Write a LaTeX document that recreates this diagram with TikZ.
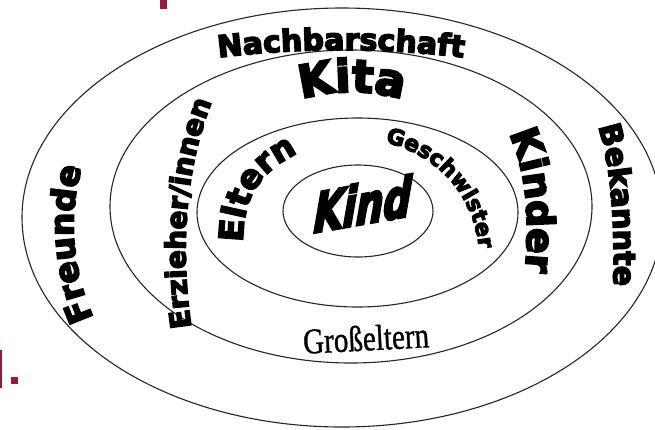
\documentclass[tikz,border=0pt]{standalone}
\usepackage{fontspec}
\usepackage{graphicx}
\usetikzlibrary{decorations.text}
\newfontfamily\wa{DejaVu Sans Bold}[FakeBold=5]
\newfontfamily\kindf{DejaVu Sans Bold}[FakeSlant=0.5,FakeBold=5]
\newfontfamily\gross{Liberation Serif}[FakeBold=1]
\definecolor{markred}{HTML}{981838}
\begin{document}
\begin{tikzpicture}[x=1pt,y=1pt,
  ring/.style={draw=black!85,line width=1.1pt},
  arctext/.style={decorate,decoration={text along path,text align=center,text={#1}}}]
\useasboundingbox (0,0) rectangle (655,-429);
\fill[white] (0,0) rectangle (655,-429);
% dark red marks
\fill[markred] (160,0) rectangle (167,-9);
\fill[markred] (0,-350) rectangle (1.5,-388);
\fill[markred] (11,-377) rectangle (18,-384);
% rings
\draw[ring] (342,-217.5) ellipse [x radius=320,y radius=209.5];
\draw[ring] (351,-206.5) ellipse [x radius=241,y radius=156.5];
\draw[ring] (357.5,-212.5) ellipse [x radius=160.5,y radius=94.5];
\draw[ring] (358,-211) ellipse [x radius=75,y radius=46];
% curved labels
\path[arctext={|\wa\fontsize{30}{30}\selectfont|Nachbarschaft}]
  (167.4,-65.2) arc[start angle=100,end angle=80,radius=1000];
\path[arctext={|\wa\fontsize{45}{45}\selectfont|Kita}]
  (236.3,-134.1) arc[start angle=130,end angle=50,radius=180];
\path[arctext={|\wa\fontsize{28}{28}\selectfont|Erzieher/innen}]
  (193,-338) .. controls (180,-260) and (182,-170) .. (216,-92);
\path[arctext={|\wa\fontsize{33}{33}\selectfont|Freunde}]
  (97,-325) .. controls (72,-275) and (66,-215) .. (84,-160);
\path[arctext={|\wa\fontsize{33}{33}\selectfont|Eltern}]
  (243,-250) .. controls (241,-200) and (258,-170) .. (305,-150);
\path[arctext={|\wa\fontsize{22}{22}\selectfont|Geschwister}]
  (372,-140) .. controls (430,-148) and (478,-190) .. (480,-262);
\path[arctext={|\wa\fontsize{38}{38}\selectfont|Kinder}]
  (503,-122) .. controls (524,-160) and (532,-205) .. (524,-285);
\path[arctext={|\wa\fontsize{30}{30}\selectfont|Bekannte}]
  (594,-115) .. controls (610,-155) and (616,-215) .. (613,-298);
% straight labels
\node[rotate=10,inner sep=0] (kind) at (356,-205)
  {\scalebox{1.05}[1.45]{\kindf\fontsize{37}{37}\selectfont Kind}};
\node[rotate=3,inner sep=0] (grosseltern) at (366,-338)
  {\scalebox{0.97}[1.2]{\gross\fontsize{30}{30}\selectfont Großeltern}};
\end{tikzpicture}
\end{document}
